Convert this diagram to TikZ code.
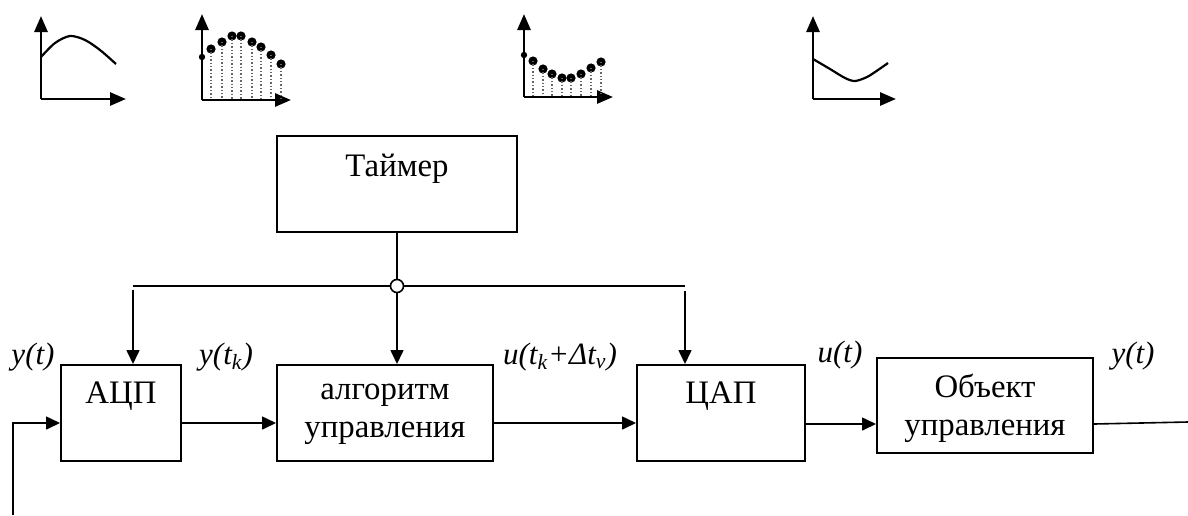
\documentclass[tikz,border=0pt]{standalone}
\usepackage{fontspec}
\setmainfont{Liberation Serif}
\usetikzlibrary{arrows.meta}
\begin{document}
\begin{tikzpicture}[x=0.5pt,y=-0.5pt,
  every node/.style={font=\fontsize{16.4}{19}\selectfont},
  box/.style={draw,line width=1pt,inner sep=0pt},
  lbl/.style={font=\fontsize{15.5}{18.5}\selectfont\itshape},
  conn/.style={line width=0.8pt},
  arr/.style={conn,-{Triangle[length=7pt,width=6.5pt]}},
  axis/.style={line width=1.4pt,-{Triangle[length=8pt,width=6.5pt]}},
  curve/.style={line width=1.1pt},
  dotln/.style={densely dotted,line width=0.7pt,black!60},
  smp/.style={circle,fill,inner sep=0pt,minimum size=4.6pt},
  ax0/.style={circle,fill,inner sep=0pt,minimum size=3.2pt},
]
\useasboundingbox (0,0) rectangle (1188,515);

% ---- small graphs ----
% graph 1: continuous signal
\draw[axis] (41,99) -- (41,16);
\draw[axis] (41,99) -- (126,99);
\draw[curve] plot[smooth] coordinates {(41,57) (55,43) (70,36) (85,40) (100,50) (116,64)};

% graph 2: sampled signal
\draw[axis] (202,100) -- (202,14);
\draw[axis] (202,100) -- (291,100);
\node[ax0] (g2a) at (202,57) {};
\foreach \x/\y [count=\i] in {211/49,222/42,232/36,241/36,252/42,261/47,271/55,281/64}{
  \node[smp] (g2p\i) at (\x,\y) {};
  \draw[dotln] (g2p\i.center) -- (\x,99);
}

% graph 3: computed sequence
\draw[axis] (524,97) -- (524,14);
\draw[axis] (524,97) -- (613,97);
\node[ax0] (g3a) at (524,55) {};
\foreach \x/\y [count=\i] in {533/61,543/69,552/74,562/78,571/78,581/74,591/68,601/62}{
  \node[smp] (g3p\i) at (\x,\y) {};
  \draw[dotln] (g3p\i.center) -- (\x,96);
}

% graph 4: continuous output
\draw[axis] (813,99) -- (813,16);
\draw[axis] (813,99) -- (896,99);
\draw[curve] plot[smooth] coordinates {(813,59) (830,69) (845,78) (855,81) (867,77) (878,70) (888,63)};

% ---- blocks ----
\node[box,minimum width=120pt,minimum height=48pt] (timer) at (397,184) {};
\node (timert) at (397,169) {Таймер};

\node[box,minimum width=60pt,minimum height=48pt] (adc) at (121,413) {};
\node (adct) at (121,396) {АЦП};

\node[box,minimum width=108pt,minimum height=48pt] (alg) at (385,413) {};
\node[align=center] (algt) at (385,414) {алгоритм\\управления};

\node[box,minimum width=84pt,minimum height=48pt] (dac) at (721,413) {};
\node (dact) at (721,396) {ЦАП};

\node[box,minimum width=108pt,minimum height=47.5pt] (obj) at (985,405.5) {};
\node[align=center] (objt) at (985,408) {Объект\\управления};

% ---- timer bus ----
\node[circle,draw,fill=white,line width=0.8pt,inner sep=0pt,minimum size=6.5pt] (j) at (397,286) {};
\coordinate (busL) at (133,286);
\coordinate (busR) at (685,286);
\coordinate (adcIn) at (133,290);
\coordinate (dacIn) at (685,291);
\draw[conn] (timer.south) -- (j.north);
\draw[conn] (busL) -- (j.west);
\draw[conn] (j.east) -- (busR);
\draw[arr] (adcIn) -- (adcIn |- adc.north);
\draw[arr] (j.south) -- (j.south |- alg.north);
\draw[arr] (dacIn) -- (dacIn |- dac.north);

% ---- signal path ----
\coordinate (fbB) at (13,515);
\coordinate (fbC) at (13,423);
\coordinate (outE) at (1188,422);
\draw[arr] (fbB) -- (fbC) -- (fbC -| adc.west);
\draw[arr] (adc.east |- 0,423) -- (alg.west |- 0,423);
\draw[arr] (alg.east |- 0,423) -- (dac.west |- 0,423);
\draw[arr] (dac.east |- 0,424) -- (obj.west |- 0,424);
\draw[conn] (obj.east |- 0,424) -- (outE);

% ---- labels ----
\node[lbl] (l1) at (33,357) {y(t)};
\node[lbl] (l2) at (226,357) {y(t\textsubscript{k})};
\node[lbl] (l3) at (560,357) {u(t\textsubscript{k}+Δt\textsubscript{v})};
\node[lbl] (l4) at (840,355) {u(t)};
\node[lbl] (l5) at (1133,356) {y(t)};
\end{tikzpicture}
\end{document}
